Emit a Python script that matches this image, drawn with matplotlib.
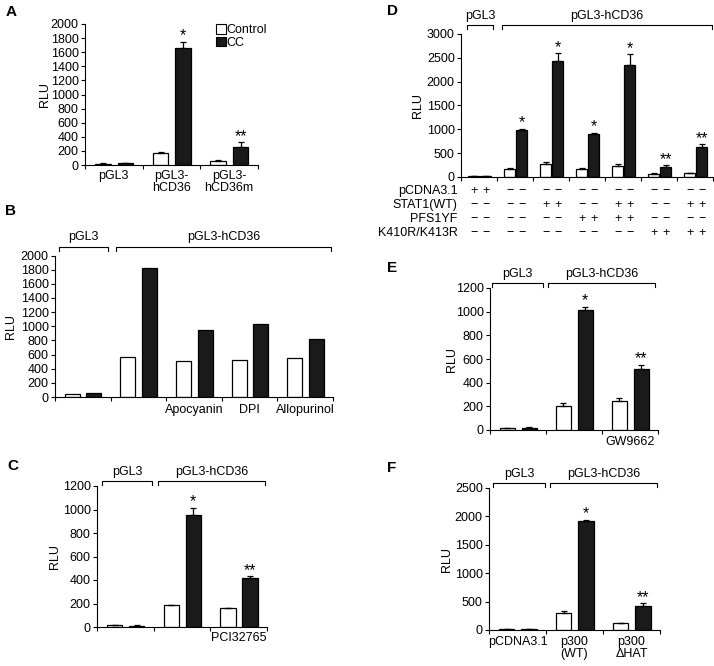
import numpy as np
import matplotlib
matplotlib.use('Agg')
import matplotlib.pyplot as plt
from matplotlib.patches import Patch

plt.rcParams['font.family'] = ['Liberation Sans', 'DejaVu Sans']
plt.rcParams['font.size'] = 9
plt.rcParams['axes.linewidth'] = 0.8

# ---- data ----
A_groups = ['pGL3', 'pGL3-\nhCD36', 'pGL3-\nhCD36m']
A_ctrl = [18, 172, 60]
A_ctrl_err = [4, 12, 8]
A_cc = [22, 1665, 260]
A_cc_err = [5, 80, 62]
A_sig = ['', '*', '**']

B_groups = ['', '', 'Apocyanin', 'DPI', 'Allopurinol']
B_ctrl = [47, 565, 513, 522, 546]
B_cc = [60, 1821, 941, 1031, 814]

C_groups = ['', '', 'PCI32765']
C_ctrl = [15, 183, 160]
C_ctrl_err = [3, 8, 5]
C_cc = [12, 955, 415]
C_cc_err = [3, 62, 15]
C_sig = ['', '*', '**']

D_ctrl = [12, 175, 280, 175, 238, 70, 84]
D_ctrl_err = [3, 10, 45, 12, 35, 10, 8]
D_cc = [15, 982, 2440, 897, 2349, 210, 631]
D_cc_err = [3, 35, 155, 35, 225, 40, 60]
D_sig = ['', '*', '*', '*', '*', '**', '**']
D_rows = ['pCDNA3.1', 'STAT1(WT)', 'PFS1YF', 'K410R/K413R']
D_table = [
    [1, 0, 0, 0, 0, 0, 0],
    [0, 0, 1, 0, 1, 0, 1],
    [0, 0, 0, 1, 1, 0, 0],
    [0, 0, 0, 0, 0, 1, 1],
]

E_groups = ['', '', 'GW9662']
E_ctrl = [15, 204, 247]
E_ctrl_err = [3, 22, 22]
E_cc = [20, 1012, 519]
E_cc_err = [4, 28, 34]
E_sig = ['', '*', '**']

F_groups = ['pCDNA3.1', 'p300\n(WT)', 'p300\n\u0394HAT']
F_ctrl = [15, 294, 125]
F_ctrl_err = [3, 35, 5]
F_cc = [20, 1912, 429]
F_cc_err = [4, 25, 38]
F_sig = ['', '*', '**']

W, H = 714, 666
fig = plt.figure(figsize=(W / 100., H / 100.), dpi=100)
BLACK = '#1a1a1a'


def make_ax(l, t, r, b):
    return fig.add_axes([l / W, 1 - b / H, (r - l) / W, (b - t) / H])


def bar_panel(ax, ctrl, cc, ymax, ystep, ctrl_err=None, cc_err=None,
              sig=None, labels=None, lpad=4, offs=(0.31, 0.70), width=0.27):
    n = len(ctrl)
    g = np.arange(n)
    xc = g + offs[0]
    xk = g + offs[1]
    ax.bar(xc, ctrl, width, color='white', edgecolor='k', lw=0.9, zorder=2)
    ax.bar(xk, cc, width, color=BLACK, edgecolor='k', lw=0.9, zorder=2)
    if ctrl_err is not None:
        ax.errorbar(xc, ctrl, yerr=[np.zeros(n), ctrl_err], fmt='none',
                    ecolor='k', elinewidth=0.9, capsize=2.5, capthick=0.9)
        ax.errorbar(xk, cc, yerr=[np.zeros(n), cc_err], fmt='none',
                    ecolor='k', elinewidth=0.9, capsize=2.5, capthick=0.9)
    if sig is not None:
        for i, s in enumerate(sig):
            if s:
                ax.annotate(s, xy=(xk[i], cc[i] + cc_err[i]), xytext=(0, 1),
                            textcoords='offset points', ha='center',
                            va='baseline', fontsize=11.5)
    ax.set_xlim(0, n)
    ax.set_ylim(0, ymax)
    ax.set_yticks(np.arange(0, ymax + 1, ystep))
    ax.set_xticks(np.arange(n + 1))
    ax.set_xticklabels([])
    if labels is not None:
        ax.set_xticks(g + 0.5, minor=True)
        ax.set_xticklabels(labels, minor=True, linespacing=1.05)
    ax.tick_params(axis='both', which='major', direction='out', length=3,
                   width=0.8, pad=1.5)
    ax.tick_params(axis='x', which='minor', length=0, pad=lpad)
    for s in ['top', 'right']:
        ax.spines[s].set_visible(False)
    return xc, xk


def bracket(ax, x0, x1, dpx, label, tpx=6):
    h = ax.get_position().height * H
    yb = 1 + dpx / h
    yt = yb - 4 / h
    tr = ax.get_xaxis_transform()
    ax.plot([x0, x0, x1, x1], [yt, yb, yb, yt], color='k', lw=0.8,
            transform=tr, clip_on=False)
    ax.text((x0 + x1) / 2., yb + tpx / h, label, transform=tr,
            ha='center', va='baseline')


def ylab(ax, xpx):
    pos = ax.get_position()
    ax.set_ylabel('RLU', va='center')
    ax.yaxis.set_label_coords((xpx / W - pos.x0) / pos.width, 0.5)


# A
axA = make_ax(85, 24, 258, 165)
bar_panel(axA, A_ctrl, A_cc, 2000, 200, A_ctrl_err, A_cc_err, A_sig,
          A_groups, lpad=3.5)
ylab(axA, 45)
axA.legend(handles=[Patch(facecolor='white', edgecolor='k', lw=0.8),
                    Patch(facecolor=BLACK, edgecolor='k', lw=0.8)],
           labels=['Control', 'CC'], loc='upper left',
           bbox_to_anchor=(0.755, 1.0), frameon=False, borderpad=0,
           handlelength=0.8, handleheight=0.8, handletextpad=0.1,
           labelspacing=0.05, borderaxespad=0)

# B
axB = make_ax(55, 255.5, 333, 397)
bar_panel(axB, B_ctrl, B_cc, 2000, 200, labels=B_groups, lpad=5)
ylab(axB, 11)
bracket(axB, 0.07, 0.95, 8.5, 'pGL3', 7)
bracket(axB, 1.10, 4.97, 8.5, 'pGL3-hCD36', 7)

# C
axC = make_ax(97, 486, 267, 627)
bar_panel(axC, C_ctrl, C_cc, 1200, 200, C_ctrl_err, C_cc_err, C_sig,
          C_groups, lpad=3.5)
ylab(axC, 55)
bracket(axC, 0.09, 0.97, 5, 'pGL3')
bracket(axC, 1.08, 2.96, 5, 'pGL3-hCD36')

# D
axD = make_ax(461, 34, 713, 177)
xc, xk = bar_panel(axD, D_ctrl, D_cc, 3000, 500, D_ctrl_err, D_cc_err, D_sig,
                   offs=(0.35, 0.69), width=0.30)
ylab(axD, 418)
bracket(axD, 0.17, 0.89, 9, 'pGL3')
bracket(axD, 1.14, 6.97, 9, 'pGL3-hCD36')
trD = axD.get_xaxis_transform()
hD = 177 - 34
for r, (name, row) in enumerate(zip(D_rows, D_table)):
    yb = -(190 + 14 * r + 4 - 177) / hD
    axD.text(-0.1, yb, name, transform=trD, ha='right', va='baseline')
    for j, v in enumerate(row):
        sgn = '+' if v else '\u2212'
        axD.text(xc[j], yb, sgn, transform=trD, ha='center', va='baseline')
        axD.text(xk[j], yb, sgn, transform=trD, ha='center', va='baseline')

# E
axE = make_ax(490, 288, 658, 430)
bar_panel(axE, E_ctrl, E_cc, 1200, 200, E_ctrl_err, E_cc_err, E_sig,
          E_groups, lpad=4.3)
ylab(axE, 452)
bracket(axE, 0.04, 0.95, 5, 'pGL3')
bracket(axE, 1.04, 2.95, 5, 'pGL3-hCD36')

# F
axF = make_ax(489, 488, 660, 630)
bar_panel(axF, F_ctrl, F_cc, 2500, 500, F_ctrl_err, F_cc_err, F_sig,
          F_groups, lpad=4.3)
ylab(axF, 447)
bracket(axF, 0.07, 0.98, 5, 'pGL3')
bracket(axF, 1.07, 2.95, 5, 'pGL3-hCD36')

# panel letters
for letter, (px, py) in zip('ABCDEF', [(6, 16), (5, 215), (7, 470),
                                       (387, 15), (387, 272), (387, 472)]):
    fig.text(px / W, 1 - py / H, letter, fontsize=11, fontweight='bold',
             ha='left', va='baseline')

fig.savefig('out.png', dpi=100)
